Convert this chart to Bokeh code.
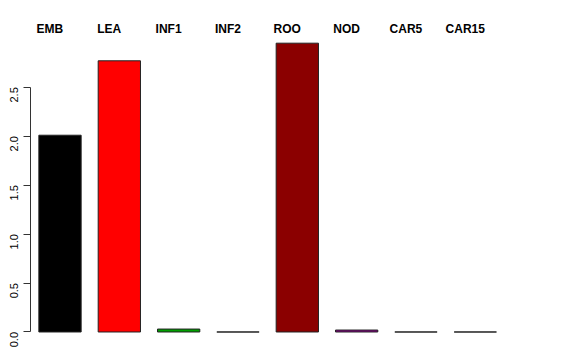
import math
from bokeh.plotting import figure
from bokeh.models import Range1d, ColumnDataSource, FixedTicker, CustomJSTickFormatter
from bokeh.core.properties import value
from bokeh.embed import file_html
from bokeh.resources import INLINE

categories = ["EMB", "LEA", "INF1", "INF2", "ROO", "NOD", "CAR5", "CAR15"]
values = [2.01, 2.77, 0.03, 0.0, 2.95, 0.02, 0.0, 0.0]
colors = ["#000000", "#FF0000", "#00A000", "#0000FF", "#8B0000", "#8B008B", "#FFA500", "#00FFFF"]
y_ticks = [0.0, 0.5, 1.0, 1.5, 2.0, 2.5]

idx = list(range(len(categories)))
src = ColumnDataSource(dict(x=idx, top=values, color=colors))
lab = ColumnDataSource(dict(x=[i - 0.17 for i in idx], y=[3.09] * len(idx), text=categories))

p = figure(width=576, height=360, output_backend="svg", toolbar_location=None,
           x_range=Range1d(-0.4972, 8.1999), y_range=Range1d(-0.1175, 3.386),
           min_border_left=30, min_border_right=30, min_border_top=0, min_border_bottom=17)
p.outline_line_color = None
p.xgrid.visible = False
p.ygrid.visible = False
p.xaxis.visible = False
p.background_fill_color = "white"
p.border_fill_color = "white"

p.vbar(x="x", top="top", bottom=0, width=0.713, fill_color="color", line_color="#222222",
       line_width=1, source=src)

p.text(x="x", y="y", text="text", source=lab, text_align="center", text_baseline="middle",
       text_font=value("Liberation Sans"), text_font_style="bold", text_font_size="12px",
       text_color="black")

ax = p.yaxis[0]
ax.ticker = FixedTicker(ticks=y_ticks)
ax.bounds = (0, 2.5)
ax.formatter = CustomJSTickFormatter(code="return tick.toFixed(1);")
ax.major_label_orientation = math.pi / 2
ax.major_tick_out = 7
ax.major_tick_in = 0
ax.minor_tick_out = 0
ax.minor_tick_in = 0
ax.major_label_standoff = 9
ax.axis_line_color = "#333333"
ax.major_tick_line_color = "#333333"
ax.major_label_text_font = "Liberation Sans"
ax.major_label_text_font_size = "11px"
ax.major_label_text_color = "black"

open("out.html", "w").write(file_html(p, INLINE))
